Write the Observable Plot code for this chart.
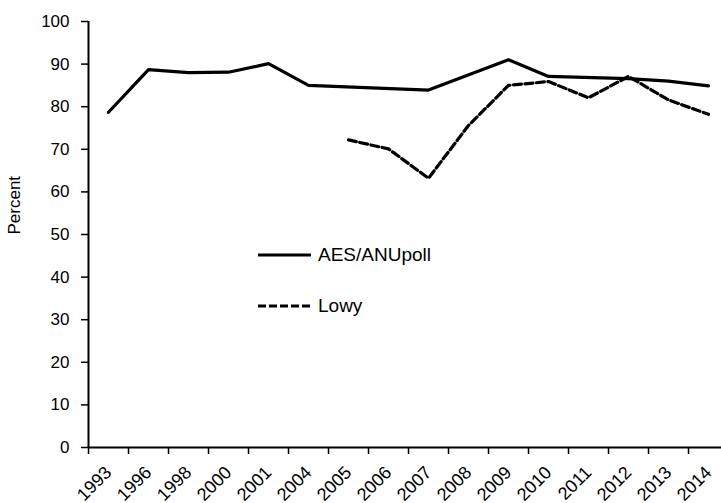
<!DOCTYPE html>
<html>
<head>
<meta charset="utf-8">
<script src="https://cdn.jsdelivr.net/npm/d3@7"></script>
<script src="https://cdn.jsdelivr.net/npm/@observablehq/plot@0.6"></script>
<style>
  html, body { margin: 0; padding: 0; background: #fff; }
  #wrap { position: relative; width: 721px; height: 503px; overflow: hidden; font-family: "Liberation Sans", Arial, sans-serif; }
  #legend { position: absolute; left: 258px; top: 238px; font-size: 19px; color: #000; }
  .item { display: flex; align-items: center; height: 34px; margin-bottom: 17px; }
  .item svg { margin-right: 7px; }
  svg.refchart g[aria-label="y-axis tick label"] text { font-size: 17px !important; }
  svg.refchart g[aria-label="x-axis tick label"] text { font-size: 18px !important; }
  svg.refchart g[aria-label="text"] text { font-size: 17px !important; }
</style>
</head>
<body>
<div id="wrap">
  <div id="chart"></div>
  <div id="legend"></div>
</div>
<script>
// Categories (survey years, equally spaced on the axis)
const categories = ["1993","1996","1998","2000","2001","2004","2005","2006","2007","2008","2009","2010","2011","2012","2013","2014"];

// AES/ANUpoll series
const aesYears  = ["1993","1996","1998","2000","2001","2004","2007","2009","2010","2012","2013","2014"];
const aesValues = [78.7, 88.7, 88.0, 88.1, 90.1, 85.0, 83.9, 91.0, 87.1, 86.6, 86.0, 84.9];

// Lowy series
const lowyYears  = ["2005","2006","2007","2008","2009","2010","2011","2012","2013","2014"];
const lowyValues = [72.2, 70.1, 63.2, 75.6, 85.0, 85.9, 82.1, 87.1, 81.6, 78.2];

const yTicks = [0,10,20,30,40,50,60,70,80,90,100];

const seriesNames = ["AES/ANUpoll", "Lowy"];
const yLabel = "Percent";

const idx = c => categories.indexOf(c) + 0.5;
const aes = aesYears.map((c, i) => ({x: idx(c), y: aesValues[i]}));
const lowy = lowyYears.map((c, i) => ({x: idx(c), y: lowyValues[i]}));

const boundaries = d3.range(categories.length + 1);
const centers = d3.range(categories.length).map(i => i + 0.5);

const chart = Plot.plot({
  className: "refchart",
  width: 721,
  height: 503,
  marginTop: 21,
  marginBottom: 56,
  marginLeft: 88,
  marginRight: 0,
  style: {fontFamily: "Liberation Sans, Arial, sans-serif", fontSize: "17px", color: "#000", background: "#fff", overflow: "visible"},
  x: {type: "linear", domain: [0, categories.length], range: [88, 728]},
  y: {domain: [0, 100], range: [447, 21]},
  marks: [
    Plot.axisY(yTicks, {tickSize: 7, tickPadding: 12, strokeWidth: 1.5, label: null}),
    Plot.text([yLabel], {frameAnchor: "left", rotate: -90, dx: -74, fontSize: 17, fill: "#000"}),
    Plot.axisX(boundaries, {tickSize: 7, strokeWidth: 1.5, tickFormat: () => "", label: null}),
    Plot.axisX(centers, {tickSize: 0, tickPadding: 22, tickRotate: -45, fontSize: 18, dx: 0,
      tickFormat: i => categories[Math.floor(i)], label: null}),
    Plot.ruleX([0], {strokeWidth: 2}),
    Plot.ruleY([0], {strokeWidth: 2}),
    Plot.line(aes, {x: "x", y: "y", stroke: "#000", strokeWidth: 3.2}),
    Plot.line(lowy, {x: "x", y: "y", stroke: "#000", strokeWidth: 3.2, strokeDasharray: "8,3.5"})
  ]
});
document.getElementById("chart").appendChild(chart);

// Legend
const legend = document.getElementById("legend");
seriesNames.forEach((name, i) => {
  const item = document.createElement("div");
  item.className = "item";
  const dash = i === 1 ? 'stroke-dasharray="8,3"' : '';
  item.innerHTML = `<svg width="53" height="10"><line x1="0" x2="53" y1="5" y2="5" stroke="#000" stroke-width="3.2" ${dash}/></svg><span>${name}</span>`;
  legend.appendChild(item);
});
</script>
</body>
</html>
